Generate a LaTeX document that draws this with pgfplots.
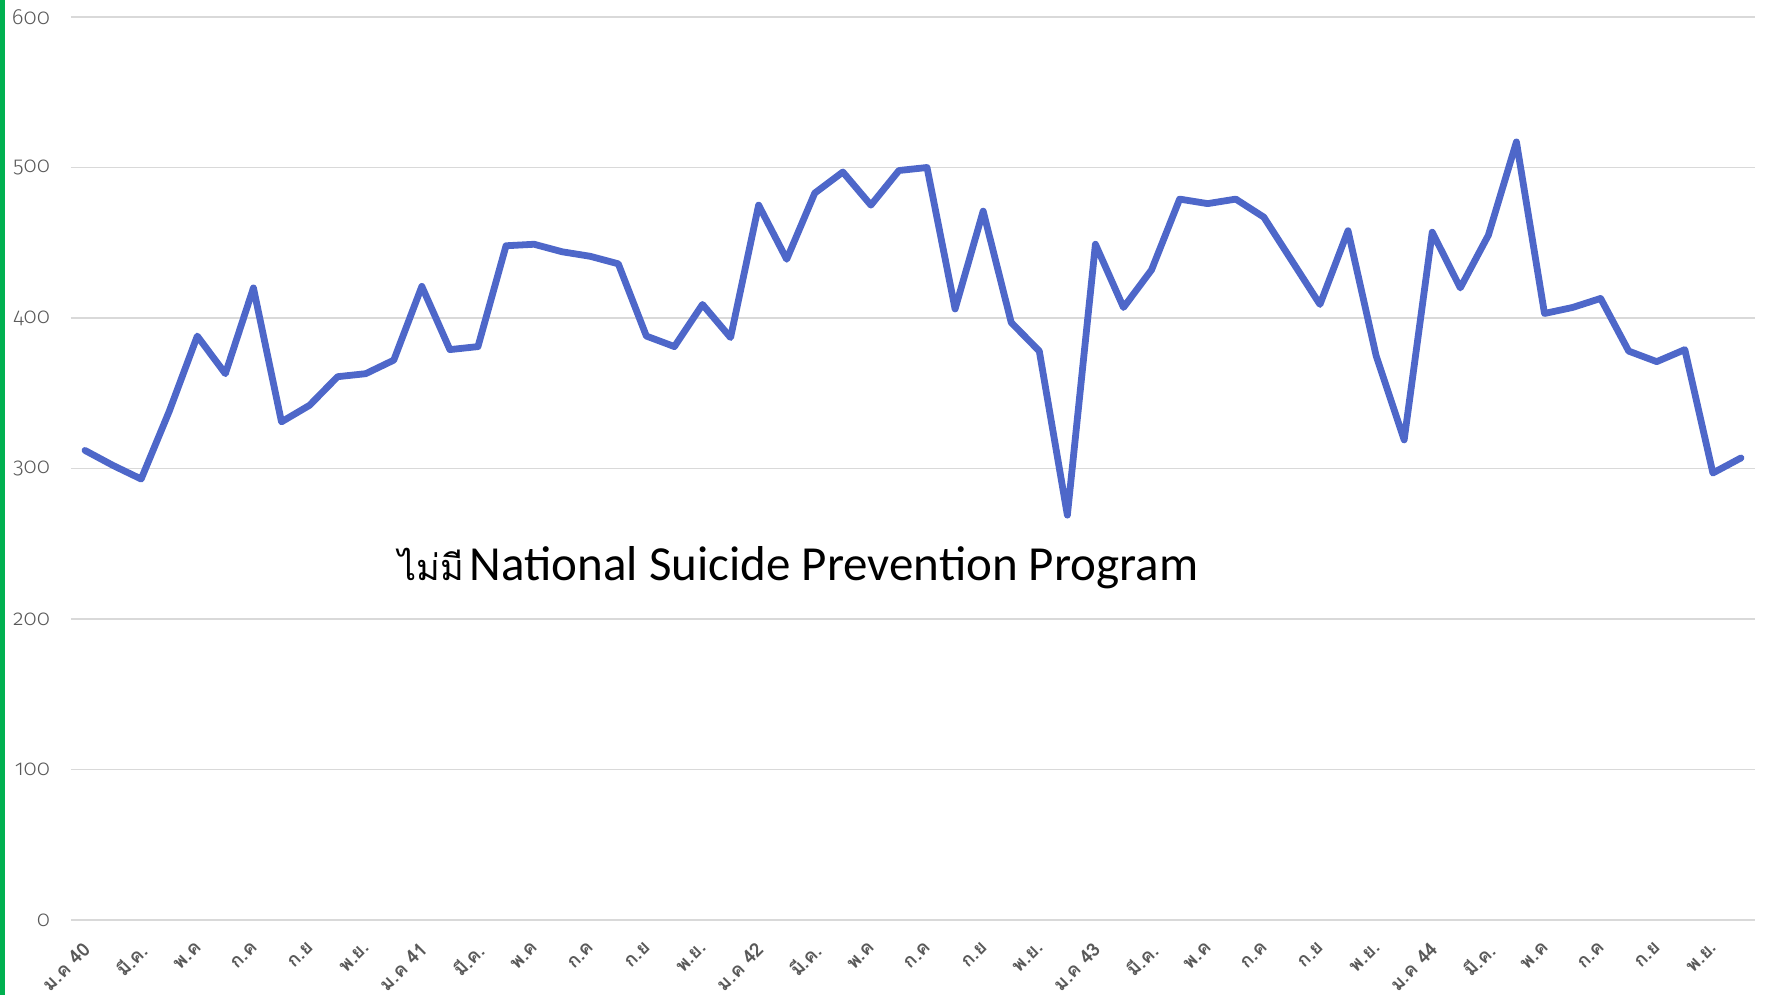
\documentclass[border=0pt]{standalone}
\usepackage{pgfplots}
\pgfplotsset{compat=1.18}
\usepackage{fontspec}
\setmainfont{Carlito}
\newfontfamily\thaifont[Script=Thai]{Loma}
\newfontfamily\numfont[Numbers=OldStyle]{Fira Sans Light}
\definecolor{serie}{HTML}{4E67C9}
\definecolor{gridc}{HTML}{D9D9D9}
\definecolor{labc}{HTML}{595959}
\definecolor{barg}{HTML}{00B050}

\pgfplotstableread{
m v
0 312
1 302
2 293
3 338
4 388
5 363
6 420
7 331
8 342
9 361
10 363
11 372
12 421
13 379
14 381
15 448
16 449
17 444
18 441
19 436
20 388
21 381
22 409
23 387
24 475
25 439
26 483
27 497
28 475
29 498
30 500
31 406
32 471
33 397
34 378
35 269
36 449
37 407
38 432
39 479
40 476
41 479
42 467
43 438
44 409
45 458
46 375
47 319
48 457
49 420
50 455
51 517
52 403
53 407
54 413
55 378
56 371
57 379
58 297
59 307
}\suicide

\begin{document}
\begin{tikzpicture}
\useasboundingbox (-35.5pt,-37.5pt) rectangle (848pt,460pt);
\fill[barg] (-35.5pt,-37.5pt) rectangle (-33pt,460pt);
\begin{axis}[
  scale only axis,
  width=842pt, height=451.5pt,
  at={(0,0)}, anchor=south west,
  xmin=-0.5, xmax=59.5,
  ymin=0, ymax=600,
  ytick={0,100,...,600},
  xtick={0,2,...,58},
  xticklabels={ม.ค 40,มี.ค.,พ.ค,ก.ค,ก.ย,พ.ย.,
               ม.ค 41,มี.ค.,พ.ค,ก.ค,ก.ย,พ.ย.,
               ม.ค 42,มี.ค.,พ.ค,ก.ค,ก.ย,พ.ย.,
               ม.ค 43,มี.ค.,พ.ค,ก.ค,ก.ย,พ.ย.,
               ม.ค 44,มี.ค.,พ.ค,ก.ค,ก.ย,พ.ย.},
  axis line style={draw=none},
  major tick length=0pt,
  ymajorgrids,
  grid style={gridc, line width=0.8pt},
  /pgf/number format/assume math mode=true,
  yticklabel style={font=\numfont\fontsize{11}{12}\selectfont, text=labc, anchor=east, xshift=-7pt},
  xticklabel style={font=\thaifont\bfseries\fontsize{9.5}{10}\selectfont, text=labc, rotate=45, anchor=north east, yshift=-3pt, xshift=-5pt},
  clip=false,
]
\addplot[serie, line width=3.4pt, line join=round, line cap=round] table[x=m, y=v] {\suicide};
\node[anchor=west, inner sep=0pt] at (axis cs:11.15,234)
  {{\thaifont\fontsize{18}{20}\selectfont ไม่มี}\hspace{3pt}\fontsize{24.5}{28}\selectfont National Suicide Prevention Program};
\end{axis}
\end{tikzpicture}
\end{document}
